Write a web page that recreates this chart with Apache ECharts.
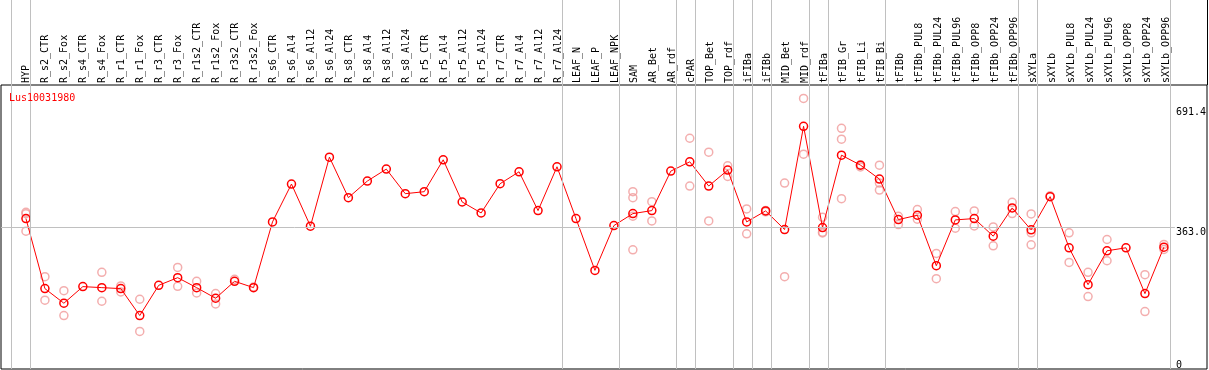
<!DOCTYPE html>
<html>
<head>
<meta charset="utf-8">
<script src="https://cdn.jsdelivr.net/npm/echarts@6/dist/echarts.min.js"></script>
<style>
html,body{margin:0;padding:0;background:#fff;}
#chart{width:1209px;height:370px;}
</style>
</head>
<body>
<div id="chart"></div>
<script>
const categories = ['HYP','R_s2_CTR','R_s2_Fox','R_s4_CTR','R_s4_Fox','R_r1_CTR','R_r1_Fox','R_r3_CTR','R_r3_Fox','R_r1s2_CTR','R_r1s2_Fox','R_r3s2_CTR','R_r3s2_Fox','R_s6_CTR','R_s6_Al4','R_s6_Al12','R_s6_Al24','R_s8_CTR','R_s8_Al4','R_s8_Al12','R_s8_Al24','R_r5_CTR','R_r5_Al4','R_r5_Al12','R_r5_Al24','R_r7_CTR','R_r7_Al4','R_r7_Al12','R_r7_Al24','LEAF_N','LEAF_P','LEAF_NPK','SAM','AR_Bet','AR_rdf','cPAR','TOP_Bet','TOP_rdf','iFIBa','iFIBb','MID_Bet','MID_rdf','tFIBa','tFIB_Gr','tFIB_Li','tFIB_Bi','tFIBb','tFIBb_PUL8','tFIBb_PUL24','tFIBb_PUL96','tFIBb_OPP8','tFIBb_OPP24','tFIBb_OPP96','sXYLa','sXYLb','sXYLb_PUL8','sXYLb_PUL24','sXYLb_PUL96','sXYLb_OPP8','sXYLb_OPP24','sXYLb_OPP96'];

const means = [387.5,195.6,155.6,201.1,198.3,195.6,121.9,204.7,225.6,198.3,169.2,215.6,198.3,378.5,482.2,366.6,555.9,444.9,490.4,523.1,455.8,461.2,548.6,433.0,403.0,483.1,515.8,409.4,529.5,387.6,245.6,368.4,401.2,409.4,517.6,543.1,476.7,520.4,378.5,408.5,357.5,640.5,363.0,561.3,534.0,495.8,384.8,396.7,258.4,383.9,387.6,339.3,416.7,356.6,447.6,307.5,206.5,299.3,307.5,181.9,309.3];

const replicates = [
  [404.8,401.0,353.0],[228.3,163.8],[190.1,121.9],[],[240.2,161.0],[202.9,186.5],[166.5,78.2],[],[253.8,202.0],[215.6,183.8],[182.0,153.7],[221.0],[200.0],
  [],[],[],[],[],[],[],[],[],[],[],[],[],[],[],[],
  [],[],[],
  [461.2,444.9,393.9,302.0],[434.0,381.2],[],[607.7,476.7],[569.5,381.2],[532.2,503.1],[413.9,345.7],[410.0,406.0],[484.9,228.3],[716.9,564.1],[391.2,350.3,348.0],[635.0,605.0,442.1],[535.0,529.0],[534.0,484.9,465.8],
  [393.9,371.2],[412.1,385.7],[292.0,222.9],[406.7,361.2],[408.5,367.5],[364.8,313.0],[432.1,401.2],
  [400.3,348.4,315.7],[450.0],[348.4,267.5],[240.2,173.8],[330.2,272.0],[],[233.8,132.8],[316.6,302.9]
];

// group separators drawn just after these category indices
const separatorsAfter = [-1,0,28,31,34,35,37,38,39,41,42,45,52,53,60];
const yTickValues = [0,363,691.4];
const yTickLabels = ['0','363.0','691.4'];
const refLineValue = 363;
const geneName = 'Lus10031980';

// layout
const STEP = 19;            // px per category
const FIRST = 26;           // px of first category centre
const PLOT_L = 1, PLOT_R = 1177;
const xMin = (PLOT_L - FIRST) / STEP;
const xMax = (PLOT_R - FIRST) / STEP;
const sepOffset = 0.226;
const MONO = 'DejaVu Sans Mono';

const repData = [];
replicates.forEach((arr, i) => arr.forEach(v => repData.push([i, v])));

const chart = echarts.init(document.getElementById('chart'), null, {renderer: 'canvas'});
chart.setOption({
  animation: false,
  backgroundColor: '#fff',
  title: {
    text: geneName, left: 9, top: 93, padding: 0,
    textStyle: {color: '#ff0000', fontSize: 10, fontWeight: 'normal', fontFamily: MONO}
  },
  grid: [
    {left: 1, top: 85, width: 1206, height: 284, show: true, borderColor: '#000', borderWidth: 1, backgroundColor: 'transparent'},
    {left: PLOT_L, top: 0, width: PLOT_R - PLOT_L, height: 369},
    {left: PLOT_L, top: 107.7, width: PLOT_R - PLOT_L, height: 253.3},
    {left: FIRST - STEP / 2, top: 85, width: STEP * categories.length, height: 284}
  ],
  xAxis: [
    {gridIndex: 0, type: 'value', show: false},
    {gridIndex: 1, type: 'value', min: xMin, max: xMax, show: false},
    {gridIndex: 2, type: 'value', min: xMin, max: xMax, show: false},
    {gridIndex: 3, type: 'category', position: 'top', data: categories, boundaryGap: true,
     axisLine: {show: false}, axisTick: {show: false}, splitLine: {show: false},
     axisLabel: {rotate: 90, interval: 0, margin: 2, fontSize: 10, fontFamily: MONO, color: '#000'}}
  ],
  yAxis: [
    {gridIndex: 0, type: 'value', show: false},
    {gridIndex: 1, type: 'value', min: 0, max: 1, show: false},
    {gridIndex: 2, type: 'value', min: 0, max: yTickValues[2], position: 'right',
     axisLine: {show: false}, axisTick: {show: false}, splitLine: {show: false},
     axisLabel: {customValues: yTickValues, formatter: (v) => yTickLabels[yTickValues.indexOf(v)] ?? '',
       margin: 1, align: 'left', verticalAlign: 'top', fontSize: 10, fontFamily: MONO, color: '#000'}},
    {gridIndex: 3, type: 'value', show: false}
  ],
  series: [
    {
      type: 'line', xAxisIndex: 1, yAxisIndex: 1, data: [], silent: true, z: 1,
      markLine: {silent: true, symbol: 'none', label: {show: false}, animation: false,
        lineStyle: {color: '#c0c0c0', type: 'solid', width: 1},
        data: separatorsAfter.map(i => ({xAxis: i + sepOffset}))}
    },
    {
      type: 'line', xAxisIndex: 2, yAxisIndex: 2, data: [], silent: true, z: 1,
      markLine: {silent: true, symbol: 'none', label: {show: false}, animation: false,
        lineStyle: {color: '#c0c0c0', type: 'solid', width: 1},
        data: [{yAxis: refLineValue}]}
    },
    {
      type: 'scatter', xAxisIndex: 2, yAxisIndex: 2, data: repData, clip: false, z: 2,
      symbol: 'circle', symbolSize: 8,
      itemStyle: {color: 'rgba(0,0,0,0)', borderColor: '#f09a9a', borderWidth: 1.5}
    },
    {
      type: 'line', xAxisIndex: 2, yAxisIndex: 2, data: means.map((v, i) => [i, v]), clip: false, z: 3,
      symbol: 'circle', symbolSize: 8, showSymbol: true,
      lineStyle: {color: '#ff0000', width: 1},
      itemStyle: {color: 'rgba(0,0,0,0)', borderColor: '#ff0000', borderWidth: 1.5}
    }
  ],
  graphic: [
    {type: 'line', z: 100, shape: {x1: 1207.5, y1: 0, x2: 1207.5, y2: 85}, style: {stroke: '#000', lineWidth: 1}},
    {type: 'rect', z: 99, shape: {x: 1208, y: 0, width: 2, height: 370}, style: {fill: '#fff'}}
  ]
});
</script>
</body>
</html>
